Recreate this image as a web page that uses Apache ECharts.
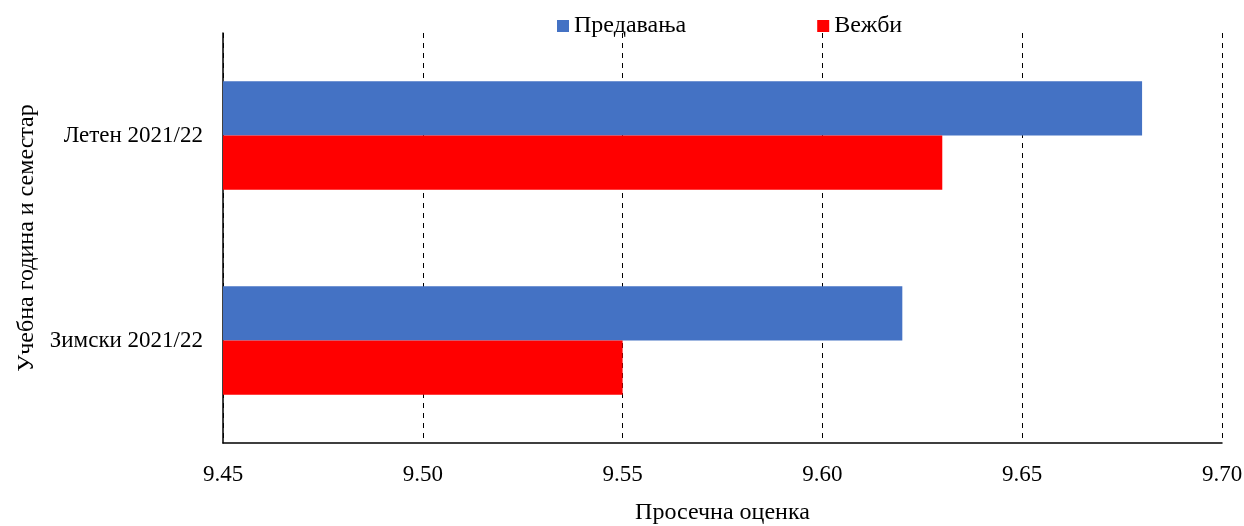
<!DOCTYPE html>
<html>
<head>
<meta charset="utf-8">
<script src="https://cdn.jsdelivr.net/npm/echarts@6/dist/echarts.min.js"></script>
<style>
  html, body { margin: 0; padding: 0; background: #fff; }
  #chart { width: 1244px; height: 526px; }
</style>
</head>
<body>
<div id="chart"></div>
<script>
// Semesters (top to bottom) and the average grade per activity type
const semesters = ['Летен 2021/22', 'Зимски 2021/22'];
const lectures = [9.68, 9.62];   // Предавања
const exercises = [9.63, 9.55];  // Вежби
const seriesNames = ['Предавања', 'Вежби'];

const FONT = '"Liberation Serif", "Times New Roman", serif';

const chart = echarts.init(document.getElementById('chart'));
chart.setOption({
  animation: false,
  textStyle: { fontFamily: FONT, color: '#000' },
  legend: {
    data: seriesNames,
    top: 9,
    left: 552,
    itemWidth: 12,
    itemHeight: 12,
    itemGap: 131,
    icon: 'rect',
    textStyle: { fontFamily: FONT, fontSize: 24, color: '#000' }
  },
  grid: { left: 223, right: 22, top: 33, bottom: 83, outerBoundsMode: 'none', containLabel: false },
  xAxis: {
    type: 'value',
    min: 9.45,
    max: 9.70,
    interval: 0.05,
    name: 'Просечна оценка',
    nameLocation: 'middle',
    nameGap: 58,
    nameTextStyle: { fontFamily: FONT, fontSize: 24, color: '#000' },
    axisLine: { show: true, lineStyle: { color: '#000', width: 1.5 } },
    axisTick: { show: false },
    axisLabel: {
      margin: 20,
      fontFamily: FONT, fontSize: 23, color: '#000',
      formatter: v => v.toFixed(2)
    },
    splitLine: { show: true, lineStyle: { color: '#000', type: [5, 5], width: 1 } }
  },
  yAxis: {
    type: 'category',
    data: semesters,
    inverse: true,
    name: 'Учебна година и семестар',
    nameLocation: 'middle',
    nameGap: 184,
    nameRotate: 90,
    nameTextStyle: { fontFamily: FONT, fontSize: 24, color: '#000' },
    axisLine: { show: true, lineStyle: { color: '#000', width: 1.5 } },
    axisTick: { show: false },
    axisLabel: { margin: 20, fontFamily: FONT, fontSize: 23, color: '#000' },
    splitLine: { show: false }
  },
  series: [
    {
      name: seriesNames[0],
      type: 'bar',
      data: lectures,
      itemStyle: { color: '#4472C4' },
      barGap: '0%',
      barCategoryGap: '47%'
    },
    {
      name: seriesNames[1],
      type: 'bar',
      data: exercises,
      itemStyle: { color: '#FF0000' },
      barGap: '0%',
      barCategoryGap: '47%'
    }
  ]
});
</script>
</body>
</html>
